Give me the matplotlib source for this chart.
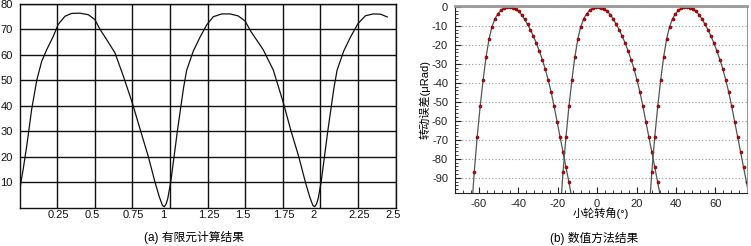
import matplotlib
matplotlib.use('Agg')
import matplotlib.pyplot as plt
from matplotlib.ticker import MultipleLocator
from matplotlib.transforms import ScaledTranslation

plt.rcParams['font.family'] = ['Liberation Sans', 'Noto Sans CJK SC']
plt.rcParams['axes.unicode_minus'] = False

# (a) finite element result
fem_x = [0.0, 0.012, 0.025, 0.047, 0.08, 0.114, 0.147, 0.18, 0.224, 0.257, 0.302, 0.346,
         0.40, 0.457, 0.50, 0.535, 0.579, 0.634, 0.69, 0.75, 0.805, 0.856, 0.90, 0.93,
         0.95, 0.962, 0.975, 0.985, 1.005, 1.027, 1.049, 1.073, 1.09, 1.111, 1.155, 1.20,
         1.244, 1.288, 1.344, 1.40, 1.454, 1.499, 1.54, 1.62, 1.687, 1.752, 1.805, 1.856,
         1.90, 1.93, 1.95, 1.962, 1.975, 1.985, 2.005, 2.027, 2.049, 2.073, 2.09, 2.111,
         2.155, 2.20, 2.25, 2.30, 2.352, 2.40, 2.445]
fem_y = [6.4, 11, 15.5, 24, 38.5, 50, 57.5, 62, 67.3, 72, 75.2, 76.3,
         76.4, 75.8, 73.9, 70, 66, 60.8, 51.6, 41, 30, 20, 10, 4,
         0.8, 0.3, 1.5, 3.5, 10, 20, 30, 40, 47, 54, 61.5, 67,
         71.8, 75, 76.1, 76.1, 75.3, 73.3, 69, 62, 54, 41.5, 30, 20,
         10, 4, 0.8, 0.3, 1.5, 3.5, 10, 20, 30, 40, 47, 54,
         61.5, 67, 72.3, 75.4, 76.1, 76, 74.9]
fem_xticks = [0.25, 0.5, 0.75, 1, 1.25, 1.5, 1.75, 2, 2.25, 2.5]
fem_xlabels = ['0.25', '0.5', '0.75', '1', '1.25', '1.5', '1.75', '2', '2.25', '2.5']
fem_yticks = [10, 20, 30, 40, 50, 60, 70, 80]

# (b) numerical method result, three meshing arcs (pinion angle in deg, error in uRad)
arc1_x = [-63.75, -62.25, -60.75, -59.25, -57.75, -56.25, -54.75, -53.25, -51.75, -50.25,
          -48.75, -47.25, -45.75, -44.25, -42.75, -41.25, -39.75, -38.25, -36.75, -35.25,
          -33.75, -32.25, -30.75, -29.25, -27.75, -26.25, -24.75, -23.25, -21.75, -20.25,
          -18.75, -17.25, -15.75, -14.25, -12.75]
arc2_x = [-18.75, -17.25, -15.75, -14.25, -12.75, -11.25, -9.75, -8.25, -6.75, -5.25,
          -3.75, -2.25, -0.75, 0.75, 2.25, 3.75, 5.25, 6.75, 8.25, 9.75,
          11.25, 12.75, 14.25, 15.75, 17.25, 18.75, 20.25, 21.75, 23.25, 24.75,
          26.25, 27.75, 29.25, 30.75, 32.25]
arc3_x = [26.25, 27.75, 29.25, 30.75, 32.25, 33.75, 35.25, 36.75, 38.25, 39.75,
          41.25, 42.75, 44.25, 45.75, 47.25, 48.75, 50.25, 51.75, 53.25, 54.75,
          56.25, 57.75, 59.25, 60.75, 62.25, 63.75, 65.25, 66.75, 68.25, 69.75,
          71.25, 72.75, 74.25, 75.75, 77.25]
arc_err = [-110, -87, -68.5, -52.5, -38.5, -26.5, -17, -10.5, -6.3, -3.7,
           -1.9, -0.7, -0.1, -0.1, -0.5, -1.3, -2.5, -4.2, -6.6, -9.3,
           -12.2, -15.5, -19.2, -23.3, -27.8, -32.8, -38.6, -45, -52.5, -60.5,
           -68.5, -76.5, -84.5, -92.5, -100.5]
num_xticks = [-60, -40, -20, 0, 20, 40, 60]
num_yticks = [0, -10, -20, -30, -40, -50, -60, -70, -80, -90]

W, H = 751, 246
fig = plt.figure(figsize=(W / 100, H / 100), dpi=100)

# ---- left panel
ax1 = fig.add_axes([19.6 / W, 1 - 207.5 / H, 376 / W, 203.5 / H])
ax1.plot(fem_x, fem_y, color='#111111', lw=0.9)
ax1.set_xlim(0, 2.5)
ax1.set_ylim(0, 80)
ax1.set_xticks(fem_xticks)
ax1.set_xticklabels(fem_xlabels)
ax1.set_yticks(fem_yticks)
ax1.grid(True, color='#111111', lw=1.0)
ax1.set_axisbelow(True)
ax1.tick_params(length=0, labelsize=8, colors='#111111')
ax1.tick_params(axis='x', pad=2)
ax1.tick_params(axis='y', pad=5)
shift = ScaledTranslation(-10 / 100, 0, fig.dpi_scale_trans)
for lab in ax1.get_xticklabels():
    lab.set_horizontalalignment('left')
    lab.set_transform(lab.get_transform() + shift)
for sp in ax1.spines.values():
    sp.set_color('#111111')
    sp.set_linewidth(1.0)

# ---- right panel
y_top, y_bot = 0.6, -98.2
ax2 = fig.add_axes([455 / W, 1 - 193.3 / H, 292 / W, (193.3 - 5.6) / H])
for xs in (arc1_x, arc2_x, arc3_x):
    ax2.plot(xs, arc_err, color='#555555', lw=0.9, marker='o', ms=2.2,
             mfc='#dd0000', mec='#550000', mew=0.4)
ax2.set_xlim(-72, 76)
ax2.set_ylim(y_bot, y_top)
ax2.set_xticks(num_xticks)
ax2.set_yticks(num_yticks)
ax2.xaxis.set_minor_locator(MultipleLocator(4))
ax2.yaxis.set_minor_locator(MultipleLocator(2))
ax2.grid(True, axis='y', color='#999999', lw=0.8, linestyle=(0, (1, 2)))
ax2.tick_params(which='both', direction='in', colors='#222222', labelsize=8)
ax2.tick_params(which='major', length=4)
ax2.tick_params(which='minor', length=2)
ax2.tick_params(axis='y', pad=5)
ax2.tick_params(axis='x', pad=4)
ax2.spines['left'].set_color('#222222')
ax2.spines['bottom'].set_color('#222222')
ax2.spines['top'].set_color('#999999')
ax2.spines['top'].set_linewidth(2)
ax2.spines['right'].set_color('#999999')
ax2.set_xlabel('小轮转角(°)', fontsize=8, labelpad=-1)
ax2.set_ylabel('转动误差(μRad)', fontsize=8, labelpad=1)

fig.text(194 / W, 1 - 238 / H, '(a) 有限元计算结果', ha='center', va='center', fontsize=8.5)
fig.text(594 / W, 1 - 238 / H, '(b) 数值方法结果', ha='center', va='center', fontsize=8.5)

fig.savefig('out.png', dpi=100)
